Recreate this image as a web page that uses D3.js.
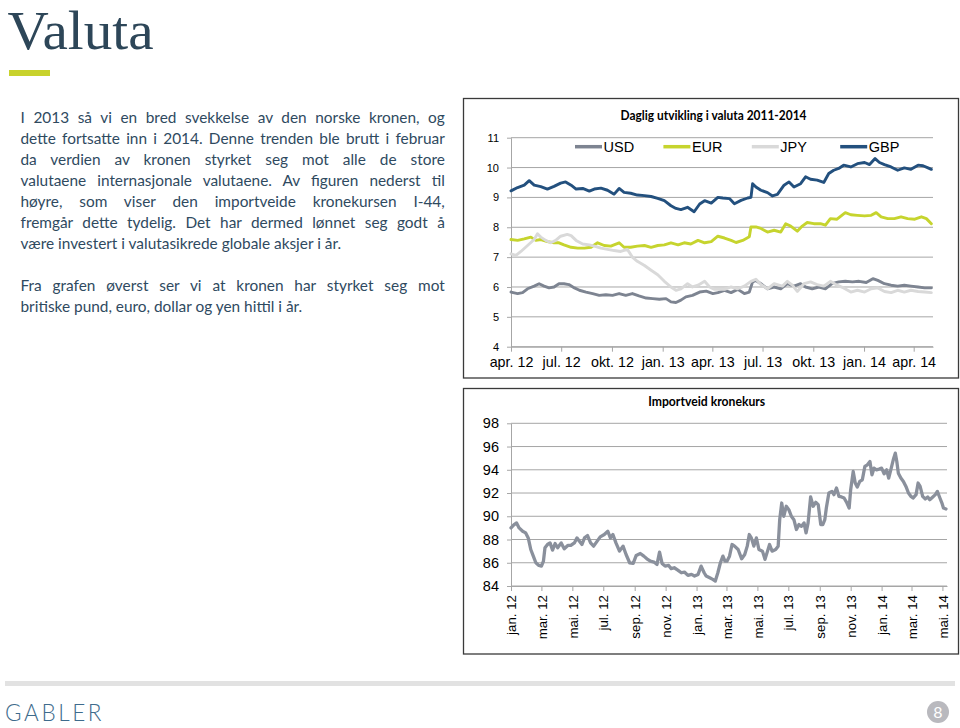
<!DOCTYPE html>
<html><head><meta charset="utf-8">
<script src="https://cdn.jsdelivr.net/npm/d3@7/dist/d3.min.js"></script>
<style>
html,body{margin:0;padding:0;background:#fff;}
body{position:relative;width:960px;height:728px;overflow:hidden;}
svg{display:block;position:absolute;left:0;top:0;}
.ax{font-family:"Liberation Sans",Arial,sans-serif;fill:#000;}
.para{position:absolute;left:20.5px;width:424.3px;font-family:Lato,"Noto Sans",sans-serif;font-size:15.4px;line-height:21px;color:#2f4a5f;}
.para div{height:21px;text-align:justify;text-align-last:justify;}
.para div.last{text-align:left;text-align-last:left;}
</style></head>
<body>
<svg id="page" width="960" height="728"></svg>
<script>
// ---------- text ----------
const pageTitle = "Valuta";
const paragraph1 = [
  "I 2013 så vi en bred svekkelse av den norske kronen, og",
  "dette fortsatte inn i 2014. Denne trenden ble brutt i februar",
  "da verdien av kronen styrket seg mot alle de store",
  "valutaene internasjonale valutaene. Av figuren nederst til",
  "høyre, som viser den importveide kronekursen I-44,",
  "fremgår dette tydelig. Det har dermed lønnet seg godt å",
  "være investert i valutasikrede globale aksjer i år."
];
const paragraph2 = [
  "Fra grafen øverst ser vi at kronen har styrket seg mot",
  "britiske pund, euro, dollar og yen hittil i år."
];
const footerBrand = "GABLER";
const pageNumber = "8";

// ---------- top chart data ----------
const topTitle = "Daglig utvikling i valuta 2011-2014";
const seriesNames = ["USD", "EUR", "JPY", "GBP"];
const topYTicks = [4, 5, 6, 7, 8, 9, 10, 11];
const topXTicks = ["2012-04-01","2012-07-01","2012-10-01","2013-01-01","2013-04-01","2013-07-01","2013-10-01","2014-01-01","2014-04-01"];
const topXLabels = ["apr. 12","jul. 12","okt. 12","jan. 13","apr. 13","jul. 13","okt. 13","jan. 14","apr. 14"];

const usd = [["2012-04-01",5.83],["2012-04-13",5.78],["2012-04-22",5.81],["2012-05-01",5.94],["2012-05-13",6.03],["2012-05-22",6.11],["2012-05-31",6.03],["2012-06-09",5.97],["2012-06-18",6.00],["2012-06-27",6.11],["2012-07-06",6.11],["2012-07-15",6.08],["2012-07-25",5.97],["2012-08-03",5.89],["2012-08-15",5.83],["2012-08-27",5.78],["2012-09-08",5.72],["2012-09-20",5.74],["2012-10-02",5.72],["2012-10-14",5.78],["2012-10-26",5.72],["2012-11-07",5.78],["2012-11-19",5.70],["2012-12-02",5.63],["2012-12-14",5.61],["2012-12-26",5.59],["2013-01-07",5.61],["2013-01-16",5.50],["2013-01-25",5.48],["2013-02-03",5.56],["2013-02-12",5.67],["2013-02-24",5.72],["2013-03-09",5.83],["2013-03-21",5.86],["2013-04-02",5.78],["2013-04-11",5.81],["2013-04-23",5.89],["2013-05-05",5.81],["2013-05-17",5.92],["2013-05-29",5.78],["2013-06-07",5.83],["2013-06-13",6.17],["2013-06-19",6.22],["2013-06-28",6.11],["2013-07-10",5.94],["2013-07-22",6.00],["2013-08-03",5.94],["2013-08-15",6.11],["2013-08-27",6.03],["2013-09-08",6.11],["2013-09-17",6.00],["2013-09-29",5.94],["2013-10-11",6.00],["2013-10-23",5.94],["2013-11-04",6.11],["2013-11-16",6.17],["2013-11-28",6.19],["2013-12-11",6.17],["2013-12-23",6.19],["2014-01-05",6.15],["2014-01-17",6.28],["2014-01-26",6.22],["2014-02-07",6.11],["2014-02-19",6.06],["2014-03-03",6.03],["2014-03-15",6.06],["2014-03-27",6.03],["2014-04-09",6.00],["2014-04-21",5.97],["2014-05-03",5.97]];

const eur = [["2012-04-01",7.59],["2012-04-13",7.56],["2012-04-25",7.61],["2012-05-07",7.67],["2012-05-16",7.56],["2012-05-25",7.59],["2012-06-06",7.52],["2012-06-18",7.48],["2012-06-27",7.48],["2012-07-06",7.41],["2012-07-19",7.33],["2012-07-31",7.30],["2012-08-12",7.30],["2012-08-24",7.33],["2012-09-05",7.48],["2012-09-17",7.39],["2012-09-29",7.37],["2012-10-14",7.48],["2012-10-23",7.33],["2012-11-04",7.33],["2012-11-16",7.37],["2012-11-29",7.39],["2012-12-11",7.33],["2012-12-23",7.39],["2013-01-04",7.41],["2013-01-16",7.48],["2013-01-29",7.41],["2013-02-09",7.48],["2013-02-21",7.44],["2013-03-06",7.56],["2013-03-18",7.48],["2013-03-30",7.52],["2013-04-11",7.70],["2013-04-23",7.64],["2013-05-05",7.56],["2013-05-14",7.49],["2013-05-26",7.56],["2013-06-07",7.68],["2013-06-10",8.01],["2013-06-19",8.01],["2013-06-28",7.96],["2013-07-10",7.84],["2013-07-22",7.90],["2013-08-03",7.84],["2013-08-12",8.12],["2013-08-21",8.04],["2013-09-02",7.87],["2013-09-11",8.04],["2013-09-20",8.16],["2013-10-02",8.12],["2013-10-14",8.12],["2013-10-23",8.07],["2013-11-01",8.29],["2013-11-13",8.27],["2013-11-28",8.49],["2013-12-08",8.42],["2013-12-20",8.40],["2014-01-02",8.38],["2014-01-14",8.40],["2014-01-23",8.49],["2014-02-01",8.35],["2014-02-13",8.29],["2014-02-25",8.29],["2014-03-09",8.35],["2014-03-21",8.29],["2014-04-03",8.27],["2014-04-15",8.35],["2014-04-24",8.29],["2014-05-03",8.12]];

const jpy = [["2012-04-01",7.11],["2012-04-10",7.06],["2012-04-19",7.19],["2012-05-01",7.39],["2012-05-13",7.59],["2012-05-19",7.78],["2012-05-25",7.67],["2012-06-03",7.56],["2012-06-12",7.48],["2012-06-21",7.56],["2012-06-30",7.70],["2012-07-12",7.76],["2012-07-19",7.72],["2012-07-28",7.56],["2012-08-09",7.44],["2012-08-21",7.41],["2012-08-30",7.37],["2012-09-11",7.30],["2012-09-23",7.26],["2012-10-05",7.22],["2012-10-17",7.19],["2012-10-29",7.26],["2012-11-07",7.00],["2012-11-16",6.86],["2012-11-29",6.72],["2012-12-11",6.56],["2012-12-23",6.41],["2013-01-04",6.19],["2013-01-16",6.00],["2013-01-25",5.89],["2013-02-03",5.94],["2013-02-15",6.11],["2013-02-24",6.00],["2013-03-06",6.06],["2013-03-18",6.19],["2013-03-27",6.00],["2013-04-05",5.92],["2013-04-23",5.92],["2013-05-05",6.00],["2013-05-17",5.94],["2013-05-29",6.03],["2013-06-10",6.19],["2013-06-19",6.26],["2013-06-28",6.08],["2013-07-10",5.94],["2013-07-22",6.11],["2013-08-06",6.03],["2013-08-15",6.19],["2013-08-24",6.06],["2013-09-02",5.85],["2013-09-14",6.11],["2013-09-26",6.17],["2013-10-08",6.08],["2013-10-20",6.03],["2013-11-01",6.19],["2013-11-13",6.06],["2013-11-25",5.97],["2013-12-08",5.83],["2013-12-20",5.89],["2014-01-02",5.83],["2014-01-14",5.94],["2014-01-26",5.97],["2014-02-07",5.85],["2014-02-19",5.81],["2014-03-03",5.89],["2014-03-15",5.83],["2014-03-27",5.89],["2014-04-09",5.85],["2014-04-21",5.83],["2014-05-03",5.81]];

const gbp = [["2012-04-01",9.22],["2012-04-13",9.33],["2012-04-25",9.41],["2012-05-04",9.56],["2012-05-13",9.41],["2012-05-25",9.36],["2012-06-06",9.28],["2012-06-18",9.37],["2012-06-30",9.48],["2012-07-09",9.52],["2012-07-19",9.41],["2012-07-28",9.28],["2012-08-09",9.30],["2012-08-21",9.21],["2012-08-30",9.28],["2012-09-11",9.31],["2012-09-23",9.24],["2012-10-05",9.11],["2012-10-14",9.30],["2012-10-23",9.17],["2012-11-04",9.14],["2012-11-16",9.08],["2012-11-29",9.06],["2012-12-11",9.03],["2012-12-23",8.97],["2013-01-04",8.89],["2013-01-16",8.72],["2013-01-25",8.63],["2013-02-03",8.59],["2013-02-15",8.67],["2013-02-27",8.52],["2013-03-09",8.78],["2013-03-18",8.89],["2013-03-30",8.81],["2013-04-11",9.00],["2013-04-20",8.98],["2013-05-02",8.96],["2013-05-11",8.79],["2013-05-23",8.90],["2013-06-04",8.98],["2013-06-10",9.00],["2013-06-13",9.46],["2013-06-19",9.35],["2013-06-28",9.24],["2013-07-10",9.16],["2013-07-19",9.05],["2013-07-28",9.10],["2013-08-09",9.41],["2013-08-18",9.52],["2013-08-27",9.35],["2013-09-08",9.46],["2013-09-17",9.69],["2013-09-26",9.61],["2013-10-08",9.58],["2013-10-20",9.50],["2013-10-29",9.80],["2013-11-07",9.91],["2013-11-16",9.97],["2013-11-25",10.08],["2013-12-08",10.02],["2013-12-20",10.13],["2014-01-02",10.17],["2014-01-11",10.10],["2014-01-21",10.30],["2014-01-29",10.17],["2014-02-07",10.10],["2014-02-19",10.02],["2014-03-03",9.91],["2014-03-15",9.99],["2014-03-27",9.94],["2014-04-09",10.08],["2014-04-18",10.06],["2014-04-27",9.99],["2014-05-03",9.94]];

// ---------- bottom chart data ----------
const bottomTitle = "Importveid kronekurs";
const bottomYTicks = [84, 86, 88, 90, 92, 94, 96, 98];
const bottomXTicks = ["2012-01-01","2012-03-01","2012-05-01","2012-07-01","2012-09-01","2012-11-01","2013-01-01","2013-03-01","2013-05-01","2013-07-01","2013-09-01","2013-11-01","2014-01-01","2014-03-01","2014-05-01"];
const bottomXLabels = ["jan. 12","mar. 12","mai. 12","jul. 12","sep. 12","nov. 12","jan. 13","mar. 13","mai. 13","jul. 13","sep. 13","nov. 13","jan. 14","mar. 14","mai. 14"];

const i44 = [["2012-01-01",89.0],["2012-01-07",89.29],["2012-01-12",89.43],["2012-01-17",89.0],["2012-01-24",88.71],["2012-01-30",88.57],["2012-02-04",88.14],["2012-02-09",87.14],["2012-02-14",86.57],["2012-02-19",86.0],["2012-02-25",85.77],["2012-03-01",85.71],["2012-03-05",86.14],["2012-03-08",87.29],["2012-03-13",87.57],["2012-03-18",87.71],["2012-03-23",87.09],["2012-03-28",87.66],["2012-04-02",87.29],["2012-04-09",87.71],["2012-04-15",87.2],["2012-04-22",87.49],["2012-04-28",87.49],["2012-05-05",87.71],["2012-05-10",88.14],["2012-05-15",87.86],["2012-05-20",87.57],["2012-05-25",88.14],["2012-05-31",88.34],["2012-06-06",87.71],["2012-06-12",87.43],["2012-06-19",87.86],["2012-06-25",88.23],["2012-07-03",88.43],["2012-07-10",88.71],["2012-07-15",88.14],["2012-07-20",88.43],["2012-07-26",87.71],["2012-08-02",87.0],["2012-08-09",87.43],["2012-08-15",86.71],["2012-08-22",86.0],["2012-08-29",85.94],["2012-09-04",86.63],["2012-09-12",86.8],["2012-09-19",86.57],["2012-09-25",86.34],["2012-10-02",86.14],["2012-10-09",86.06],["2012-10-15",85.86],["2012-10-20",86.91],["2012-10-25",85.94],["2012-10-31",85.71],["2012-11-07",85.77],["2012-11-12",85.49],["2012-11-18",85.57],["2012-11-25",85.37],["2012-12-02",85.14],["2012-12-08",85.2],["2012-12-15",84.91],["2012-12-22",85.0],["2012-12-28",84.86],["2013-01-04",85.0],["2013-01-10",85.71],["2013-01-16",85.14],["2013-01-20",84.86],["2013-01-27",84.71],["2013-02-02",84.57],["2013-02-07",84.43],["2013-02-12",85.14],["2013-02-17",86.0],["2013-02-22",86.57],["2013-02-26",86.14],["2013-03-02",86.14],["2013-03-07",86.57],["2013-03-12",87.57],["2013-03-17",87.43],["2013-03-24",87.14],["2013-03-31",86.34],["2013-04-06",86.71],["2013-04-11",87.43],["2013-04-15",88.43],["2013-04-19",88.14],["2013-04-24",87.43],["2013-04-29",88.14],["2013-05-04",87.14],["2013-05-11",87.0],["2013-05-16",86.29],["2013-05-21",87.0],["2013-05-25",87.57],["2013-05-30",87.0],["2013-06-06",87.14],["2013-06-11",87.43],["2013-06-14",89.71],["2013-06-18",91.14],["2013-06-22",90.0],["2013-06-27",90.86],["2013-07-02",90.57],["2013-07-07",90.0],["2013-07-12",89.71],["2013-07-17",88.86],["2013-07-22",89.29],["2013-07-27",89.14],["2013-08-01",89.43],["2013-08-05",88.57],["2013-08-09",89.43],["2013-08-14",91.66],["2013-08-19",90.86],["2013-08-24",91.2],["2013-08-29",91.0],["2013-09-03",89.29],["2013-09-07",89.29],["2013-09-11",89.71],["2013-09-14",90.71],["2013-09-19",92.0],["2013-09-25",92.14],["2013-09-29",91.86],["2013-10-04",92.43],["2013-10-09",91.71],["2013-10-14",91.66],["2013-10-19",91.57],["2013-10-24",91.2],["2013-10-29",90.71],["2013-11-01",92.29],["2013-11-06",93.86],["2013-11-10",92.86],["2013-11-14",92.51],["2013-11-19",93.0],["2013-11-24",93.14],["2013-11-29",94.29],["2013-12-04",94.43],["2013-12-09",94.71],["2013-12-13",93.57],["2013-12-17",94.14],["2013-12-22",94.0],["2013-12-27",94.06],["2014-01-01",94.14],["2014-01-06",93.66],["2014-01-11",94.0],["2014-01-15",93.29],["2014-01-20",94.14],["2014-01-24",94.86],["2014-01-28",95.43],["2014-01-31",94.71],["2014-02-03",93.71],["2014-02-08",93.29],["2014-02-13",93.0],["2014-02-18",92.57],["2014-02-23",92.0],["2014-02-28",91.71],["2014-03-04",91.57],["2014-03-10",91.86],["2014-03-14",92.86],["2014-03-18",92.57],["2014-03-23",91.71],["2014-03-28",91.49],["2014-04-02",91.66],["2014-04-06",91.43],["2014-04-12",91.66],["2014-04-17",91.86],["2014-04-21",92.14],["2014-04-26",91.57],["2014-04-30",91.14],["2014-05-03",90.71],["2014-05-08",90.63]];

// ---------- styles ----------
const seriesColors = ["#7d8491", "#c6d42e", "#d9d9d9", "#23507e"];
const gridColor = "#a6a6a6";

const parse = d3.timeParse("%Y-%m-%d");
const svg = d3.select("#page");

// ---------- page header ----------
svg.append("text").attr("x", 7.5).attr("y", 48.5)
  .attr("font-family", "'Liberation Serif','Times New Roman',serif")
  .attr("font-size", 54).attr("textLength", 146).attr("lengthAdjust", "spacingAndGlyphs")
  .attr("fill", "#2d4658").text(pageTitle);
svg.append("rect").attr("x", 9).attr("y", 70).attr("width", 41).attr("height", 6).attr("fill", "#c8d22c");

// ---------- paragraphs (HTML, justified) ----------
function drawParagraph(lines, top) {
  const box = d3.select("body").append("div").attr("class", "para").style("top", top + "px");
  box.selectAll("div").data(lines).join("div")
    .classed("last", (d, i) => i === lines.length - 1)
    .text(d => d);
}
drawParagraph(paragraph1, 106.8);
drawParagraph(paragraph2, 275.2);

// ---------- footer ----------
svg.append("rect").attr("x", 5).attr("y", 681).attr("width", 950).attr("height", 5).attr("fill", "#e2e2e2");
svg.append("text").attr("x", 5).attr("y", 720.5)
  .attr("font-family", "Lato,'Open Sans',sans-serif").attr("font-weight", 300)
  .attr("font-size", 22.5).attr("letter-spacing", 2.6).attr("fill", "#3e6b8c").text(footerBrand);
svg.append("circle").attr("cx", 938).attr("cy", 712).attr("r", 11).attr("fill", "#b9b9be");
svg.append("text").attr("x", 938).attr("y", 718).attr("text-anchor", "middle")
  .attr("font-family", "Lato,sans-serif").attr("font-size", 16).attr("fill", "#fff").text(pageNumber);

// ---------- boxes ----------
svg.append("rect").attr("x", 463.5).attr("y", 98.5).attr("width", 495).attr("height", 279.5)
  .attr("fill", "none").attr("stroke", "#3a3a3a").attr("stroke-width", 1.3);
svg.append("rect").attr("x", 463.5).attr("y", 388.5).attr("width", 495).attr("height", 265.5)
  .attr("fill", "none").attr("stroke", "#3a3a3a").attr("stroke-width", 1.3);

function styleAxis(g, size) {
  g.select(".domain").attr("stroke", gridColor);
  g.selectAll(".tick line").attr("stroke", gridColor);
  g.selectAll(".tick text").attr("class", "ax").attr("font-size", size).attr("fill", "#000");
}

// ---------- top chart ----------
const tx = d3.scaleTime().domain([parse("2012-04-01"), parse("2014-05-06")]).range([511, 933]);
const ty = d3.scaleLinear().domain([4, 11]).range([346.7, 137.7]);

svg.append("text").attr("x", 713.5).attr("y", 119.5).attr("text-anchor", "middle")
  .attr("font-family", "Lato,'Open Sans',sans-serif").attr("font-weight", 700).attr("font-size", 12.5)
  .attr("textLength", 186).attr("lengthAdjust", "spacingAndGlyphs").attr("fill", "#000").text(topTitle);

svg.append("g").selectAll("line").data(topYTicks).join("line")
  .attr("x1", tx.range()[0]).attr("x2", tx.range()[1])
  .attr("y1", d => ty(d)).attr("y2", d => ty(d))
  .attr("stroke", gridColor).attr("stroke-width", 1);

const gTy = svg.append("g").attr("transform", `translate(${tx.range()[0]},0)`)
  .call(d3.axisLeft(ty).tickValues(topYTicks).tickFormat(d3.format("d")).tickSizeInner(4).tickSizeOuter(0).tickPadding(8));
styleAxis(gTy, 11);

const gTx = svg.append("g").attr("transform", `translate(0,${ty(4)})`)
  .call(d3.axisBottom(tx).tickValues(topXTicks.map(parse)).tickFormat((d, i) => topXLabels[i]).tickSizeInner(5).tickSizeOuter(0));
styleAxis(gTx, 14.3);
gTx.selectAll(".tick text").attr("y", 10);

const topSeries = [usd, eur, jpy, gbp];
const topLine = d3.line().x(d => tx(parse(d[0]))).y(d => ty(d[1]));
topSeries.forEach((s, i) => {
  svg.append("path").datum(s).attr("d", topLine).attr("fill", "none")
    .attr("stroke", seriesColors[i]).attr("stroke-width", 2.9)
    .attr("stroke-linejoin", "round").attr("stroke-linecap", "round");
});

// legend
const legend = svg.append("g").attr("transform", "translate(575,146.7)");
seriesNames.forEach((name, i) => {
  const g = legend.append("g").attr("transform", `translate(${i * 88.4},0)`);
  g.append("line").attr("x1", 0).attr("x2", 27).attr("y1", 0).attr("y2", 0)
    .attr("stroke", seriesColors[i]).attr("stroke-width", 3.5);
  g.append("text").attr("class", "ax").attr("x", 28.5).attr("y", 5.3)
    .attr("font-size", 14.5).text(name);
});

// ---------- bottom chart ----------
const bx = d3.scaleTime().domain([parse("2012-01-01"), parse("2014-05-10")]).range([511, 947]);
const by = d3.scaleLinear().domain([84, 98]).range([586, 423.3]);

svg.append("text").attr("x", 706.7).attr("y", 405.5).attr("text-anchor", "middle")
  .attr("font-family", "Lato,'Open Sans',sans-serif").attr("font-weight", 700).attr("font-size", 12.5)
  .attr("textLength", 117).attr("lengthAdjust", "spacingAndGlyphs").attr("fill", "#000").text(bottomTitle);

svg.append("g").selectAll("line").data(bottomYTicks).join("line")
  .attr("x1", bx.range()[0]).attr("x2", bx.range()[1])
  .attr("y1", d => by(d)).attr("y2", d => by(d))
  .attr("stroke", gridColor).attr("stroke-width", 1);

const gBy = svg.append("g").attr("transform", `translate(${bx.range()[0]},0)`)
  .call(d3.axisLeft(by).tickValues(bottomYTicks).tickFormat(d3.format("d")).tickSizeInner(4).tickSizeOuter(0).tickPadding(8));
styleAxis(gBy, 14.5);

const gBx = svg.append("g").attr("transform", `translate(0,${by(84)})`)
  .call(d3.axisBottom(bx).tickValues(bottomXTicks.map(parse)).tickFormat((d, i) => bottomXLabels[i]).tickSizeInner(5).tickSizeOuter(0));
styleAxis(gBx, 13.3);
gBx.selectAll(".tick text").attr("transform", "rotate(-90)").attr("text-anchor", "end")
  .attr("x", -9).attr("y", 0).attr("dy", "0.35em");

const bLine = d3.line().x(d => bx(parse(d[0]))).y(d => by(d[1]));
svg.append("path").datum(i44).attr("d", bLine).attr("fill", "none")
  .attr("stroke", "#8a909c").attr("stroke-width", 3.3)
  .attr("stroke-linejoin", "round").attr("stroke-linecap", "round");
</script>
</body></html>
